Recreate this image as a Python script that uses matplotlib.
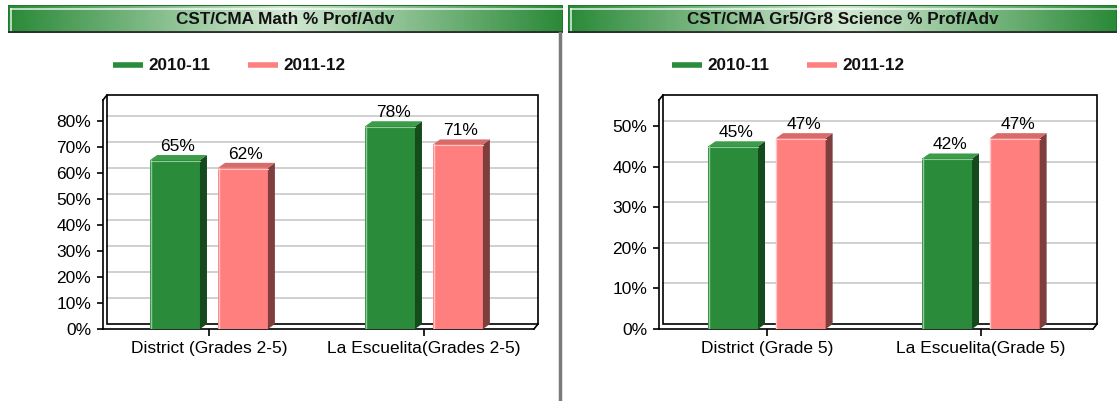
import numpy as np
import matplotlib
matplotlib.use("Agg")
import matplotlib.pyplot as plt
from matplotlib.patches import Polygon, Rectangle
from matplotlib.lines import Line2D
from matplotlib.transforms import IdentityTransform, offset_copy
from matplotlib.colors import LinearSegmentedColormap

plt.rcParams['font.family'] = ['Liberation Sans', 'DejaVu Sans']

# data
series = ['2010-11', '2011-12']
math_cats = ['District (Grades 2-5)', 'La Escuelita(Grades 2-5)']
math_2010 = [65, 78]
math_2011 = [62, 71]
math_ticks = [0, 10, 20, 30, 40, 50, 60, 70, 80]
sci_cats = ['District (Grade 5)', 'La Escuelita(Grade 5)']
sci_2010 = [45, 42]
sci_2011 = [47, 47]
sci_ticks = [0, 10, 20, 30, 40, 50]

W, H = 1117, 401
fig = plt.figure(figsize=(W / 100, H / 100), dpi=100)
fig.patch.set_facecolor('white')

green = dict(front='#2a8c3b', side='#154a1d', top='#3c9c4a', hi='#8fcb98')
pink = dict(front='#ff7f7f', side='#7f3e3e', top='#d96a6a', hi='#ffc4c4')

DX, DY = 4, 5      # wall depth in px
BX, BY = 7, 5      # bar depth in px
FS = 12.5


def fx(px):
    return px / W


def fy(py):
    return 1 - py / H


def title_bar(x0, x1, text):
    tax = fig.add_axes([fx(x0), fy(33), fx(x1 - x0), (33 - 5) / H])
    cmap = LinearSegmentedColormap.from_list('g', ['#2a8a38', '#d4e9d4', '#2a8a38'])
    grad = np.linspace(0, 1, 400)[None, :]
    tax.imshow(grad, aspect='auto', cmap=cmap, extent=[0, 1, 0, 1])
    tax.set_xlim(0, 1)
    tax.set_ylim(0, 1)
    tax.axis('off')
    # highlight and shadow edges
    tax.plot([0.006, 1], [0.86, 0.86], color='white', lw=1.2, alpha=0.8)
    tax.plot([0.006, 0.006], [0.08, 0.86], color='white', lw=1.2, alpha=0.8)
    tax.plot([0, 1], [0.04, 0.04], color='#2b2b2b', lw=1.3)
    tax.add_patch(Rectangle((0, 0), 1, 1, fill=False, ec='#1e7a2c', lw=1.5))
    tax.text(0.5, 0.5, text, ha='center', va='center', fontsize=12.3,
             fontweight='bold', color='#111111')


def legend(x0, gap):
    for i, (name, c) in enumerate(zip(series, [green, pink])):
        xs = x0 + i * gap
        fig.add_artist(Line2D([fx(xs), fx(xs + 30)], [fy(65), fy(65)],
                              lw=4, color=c['front'], solid_capstyle='butt'))
        fig.text(fx(xs + 35), fy(65), name, ha='left', va='center',
                 fontsize=12.3, fontweight='bold', color='#111111')


def panel(left, right, unit, ymax, ticks, cats, v1, v2):
    ax = fig.add_axes([fx(left), fy(329), fx(right - left), (329 - 100) / H])
    x = np.arange(len(cats))
    ax.set_xlim(-unit[0], 1 + unit[1])
    ax.set_ylim(0, ymax)
    ax.set_facecolor('none')
    for s in ['top', 'right']:
        ax.spines[s].set_visible(False)
    ax.spines['left'].set_linewidth(1.2)
    ax.spines['bottom'].set_linewidth(1.2)
    ax.set_yticks(ticks)
    ax.set_yticklabels([f'{t}%' for t in ticks])
    ax.set_xticks(x)
    ax.set_xticklabels(cats)
    ax.tick_params(axis='y', length=4, width=1.2, pad=4.5, labelsize=FS)
    ax.tick_params(axis='x', length=5, width=1.2, pad=4, labelsize=FS)

    # back wall with grid
    back = offset_copy(ax.transData, fig=fig, x=DX, y=DY, units='dots')
    back_ax = offset_copy(ax.transAxes, fig=fig, x=DX, y=DY, units='dots')
    for t in ticks[1:]:
        ax.plot([-unit[0], 1 + unit[1]], [t, t], color='#c8c8c8', lw=1.2,
                transform=back, clip_on=False, zorder=1)
    ax.add_patch(Rectangle((0, 0), 1, 1, fill=False, ec='black', lw=1.2,
                           transform=back_ax, clip_on=False, zorder=1))
    # corner edges of the walls
    tr = ax.transAxes
    for a in [(0, 1), (1, 0)]:
        p = tr.transform(a)
        ax.add_line(Line2D([p[0], p[0] + DX], [p[1], p[1] + DY], color='black',
                           lw=1.2, transform=IdentityTransform(), clip_on=False))

    w = 0.232
    off = 0.158
    for vals, c, sgn in [(v1, green, -1), (v2, pink, 1)]:
        xs = x + sgn * off
        ax.bar(xs, vals, width=w, color=c['front'], zorder=3)
        for xi, v in zip(xs, vals):
            (l, b0), (r, t) = ax.transData.transform([(xi - w / 2, 0), (xi + w / 2, v)])
            side = [(r, b0), (r, t), (r + BX, t + BY), (r + BX, b0 + BY)]
            top = [(l, t), (r, t), (r + BX, t + BY), (l + BX, t + BY)]
            ax.add_patch(Polygon(side, closed=True, fc=c['side'], ec='none',
                                 transform=IdentityTransform(), clip_on=False, zorder=4))
            ax.add_patch(Polygon(top, closed=True, fc=c['top'], ec='none',
                                 transform=IdentityTransform(), clip_on=False, zorder=4))
            ax.add_line(Line2D([l + 0.5, l + 0.5], [b0, t], color=c['hi'], lw=1,
                               transform=IdentityTransform(), zorder=5))
            ax.add_line(Line2D([l, r], [t - 1, t - 1], color=c['hi'], lw=0.8,
                               transform=IdentityTransform(), zorder=5))
            ax.annotate(f'{v}%', (xi, v), xytext=(3, 6), textcoords='offset pixels',
                        ha='center', va='bottom', fontsize=FS, zorder=6)
    return ax


title_bar(8, 563, 'CST/CMA Math % Prof/Adv')
title_bar(568, 1117, 'CST/CMA Gr5/Gr8 Science % Prof/Adv')
legend(113, 135)
legend(672, 135)

panel(103, 534, ((209 - 103) / 215, (534 - 424) / 215), 88.1, math_ticks,
      math_cats, math_2010, math_2011)
panel(659, 1093, ((767 - 659) / 214, (1093 - 981) / 214), 56.4, sci_ticks,
      sci_cats, sci_2010, sci_2011)

# divider between the two panels
fig.add_artist(Line2D([fx(560), fx(560)], [fy(33), 0], color='#7a7a7a', lw=2.5))

fig.savefig('out.png', dpi=100, facecolor='white')
